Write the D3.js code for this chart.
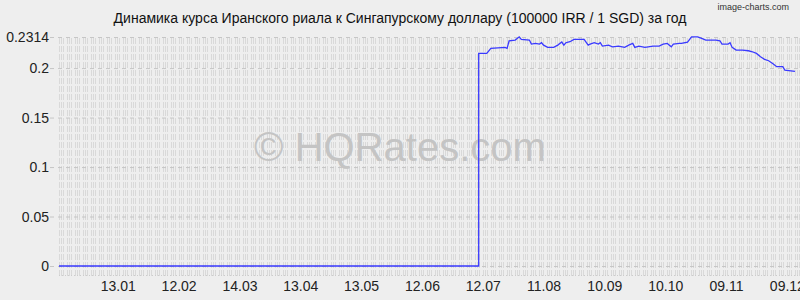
<!DOCTYPE html>
<html>
<head>
<meta charset="utf-8">
<script src="https://cdn.jsdelivr.net/npm/d3@7"></script>
<style>
  body { margin: 0; background: #eeeeee; }
  svg { display: block; }
</style>
</head>
<body>
<div id="chart"></div>
<script>
// Rate data (100000 IRR / 1 SGD)
var dates = [
    '2012-12-15', '2013-07-10', '2013-07-10', '2013-07-14', '2013-07-16', '2013-07-23',
    '2013-07-24', '2013-07-25', '2013-07-28', '2013-07-30', '2013-07-31', '2013-08-04',
    '2013-08-05', '2013-08-07', '2013-08-09', '2013-08-10', '2013-08-11', '2013-08-13',
    '2013-08-16', '2013-08-18', '2013-08-20', '2013-08-21', '2013-08-22', '2013-08-24',
    '2013-08-26', '2013-08-31', '2013-09-02', '2013-09-03', '2013-09-05', '2013-09-07',
    '2013-09-08', '2013-09-09', '2013-09-12', '2013-09-14', '2013-09-17', '2013-09-20',
    '2013-09-22', '2013-09-24', '2013-09-25', '2013-09-27', '2013-09-30', '2013-10-04',
    '2013-10-07', '2013-10-09', '2013-10-11', '2013-10-13', '2013-10-14', '2013-10-17',
    '2013-10-18', '2013-10-21', '2013-10-23', '2013-10-26', '2013-10-28', '2013-10-30',
    '2013-11-04', '2013-11-06', '2013-11-07', '2013-11-10', '2013-11-11', '2013-11-12',
    '2013-11-14', '2013-11-17', '2013-11-20', '2013-11-22', '2013-11-24', '2013-11-26',
    '2013-11-28', '2013-11-30', '2013-12-02', '2013-12-04', '2013-12-07', '2013-12-08',
    '2013-12-10', '2013-12-13'
];
var rates = [
    0, 0, 0.2148, 0.2148, 0.2199, 0.2209,
    0.2199, 0.2276, 0.2283, 0.2316, 0.2290, 0.2283,
    0.2242, 0.2249, 0.2242, 0.2256, 0.2232, 0.2209,
    0.2209, 0.2232, 0.2263, 0.2232, 0.2256, 0.2266,
    0.2290, 0.2290, 0.2232, 0.2242, 0.2256, 0.2242,
    0.2256, 0.2222, 0.2232, 0.2215, 0.2222, 0.2209,
    0.2232, 0.2249, 0.2209, 0.2222, 0.2209, 0.2222,
    0.2222, 0.2242, 0.2249, 0.2215, 0.2242, 0.2249,
    0.2249, 0.2263, 0.2316, 0.2316, 0.2300, 0.2283,
    0.2283, 0.2276, 0.2242, 0.2242, 0.2256, 0.2209,
    0.2182, 0.2182, 0.2175, 0.2165, 0.2148, 0.2114,
    0.2088, 0.2074, 0.2047, 0.2014, 0.2014, 0.1980,
    0.1974, 0.1966
];

// Axis ticks
var yTicks = [0, 0.05, 0.1, 0.15, 0.2, 0.2314];
var yTickLabels = ['0', '0.05', '0.1', '0.15', '0.2', '0.2314'];
var xTicks = [
    '2013-01-13', '2013-02-12', '2013-03-14', '2013-04-13', '2013-05-13', '2013-06-12',
    '2013-07-12', '2013-08-11', '2013-09-10', '2013-10-10', '2013-11-09', '2013-12-09'
];
var dateRange = ['2012-12-15', '2013-12-14'];

var title = 'Динамика курса Иранского риала к Сингапурскому доллару (100000 IRR / 1 SGD) за год';

// Layout
var fullWidth = 800;
var fullHeight = 300;
var plot = { left: 59, right: 800, top: 37, bottom: 276 };

var parseDate = d3.timeParse('%Y-%m-%d');
var data = dates.map(function (d, i) {
    return { date: parseDate(d), rate: rates[i] };
});

var svg = d3.select('#chart').append('svg')
    .attr('width', fullWidth)
    .attr('height', fullHeight)
    .style('font-family', '"Liberation Sans", Arial, sans-serif');

svg.append('rect')
    .attr('width', fullWidth)
    .attr('height', fullHeight)
    .attr('fill', '#eeeeee');

// Scales
var xScale = d3.scaleTime()
    .domain(dateRange.map(parseDate))
    .range([plot.left, 797]);

var yScale = d3.scaleLinear()
    .domain([0, 0.2314])
    .range([266, plot.top]);

// Dense dashed grid texture of the plot area
var defs = svg.append('defs');
var pat = defs.append('pattern')
    .attr('id', 'grid')
    .attr('patternUnits', 'userSpaceOnUse')
    .attr('x', plot.left)
    .attr('y', plot.top + 1)
    .attr('width', 8)
    .attr('height', 8);
[0, 2, 4].forEach(function (px) {
    pat.append('rect')
        .attr('x', px)
        .attr('y', 0)
        .attr('width', 1)
        .attr('height', 6)
        .attr('fill', '#d9d9d9');
});

svg.append('rect')
    .attr('x', plot.left)
    .attr('y', plot.top)
    .attr('width', plot.right - plot.left)
    .attr('height', plot.bottom - plot.top)
    .attr('fill', 'url(#grid)');

// bottom dotted border
svg.append('line')
    .attr('x1', plot.left)
    .attr('x2', plot.right)
    .attr('y1', plot.bottom - 0.5)
    .attr('y2', plot.bottom - 0.5)
    .attr('stroke', '#cccccc')
    .attr('stroke-dasharray', '1,2');

// Watermark
svg.append('text')
    .attr('x', 400)
    .attr('y', 161)
    .attr('text-anchor', 'middle')
    .style('font-size', '40px')
    .style('fill', '#c4c4c4')
    .text('© HQRates.com');

// Horizontal dashed lines at y ticks
var yAxis = d3.axisLeft(yScale)
    .tickValues(yTicks)
    .tickSize(-(plot.right - 50))
    .tickPadding(1)
    .tickFormat(function (d, i) { return yTickLabels[i]; });

var yAxisEle = svg.append('g')
    .classed('y axis', true)
    .attr('transform', 'translate(50,0)')
    .call(yAxis);

yAxisEle.select('.domain').remove();
yAxisEle.selectAll('.tick line')
    .attr('stroke', '#c6c6c6')
    .attr('stroke-dasharray', '4,4');
yAxisEle.selectAll('.tick text')
    .attr('x', -1)
    .attr('dy', '0.35em')
    .style('font-size', '14px')
    .style('font-family', '"Liberation Sans", Arial, sans-serif')
    .style('fill', '#222');

// X axis labels
var fmt = d3.timeFormat('%d.%m');
var xAxis = d3.axisBottom(xScale)
    .tickValues(xTicks.map(parseDate))
    .tickSize(0)
    .tickPadding(0)
    .tickFormat(fmt);

var xAxisEle = svg.append('g')
    .classed('x axis', true)
    .attr('transform', 'translate(0,' + 278 + ')')
    .call(xAxis);

xAxisEle.select('.domain').remove();
xAxisEle.selectAll('.tick text')
    .attr('y', 0)
    .attr('dy', '0.95em')
    .style('font-size', '14px')
    .style('font-family', '"Liberation Sans", Arial, sans-serif')
    .style('fill', '#222');

// Rate line
var line = d3.line()
    .x(function (d) { return xScale(d.date); })
    .y(function (d) { return yScale(d.rate); });

svg.append('path')
    .datum(data)
    .attr('d', line)
    .attr('fill', 'none')
    .attr('stroke', '#3a3aff')
    .attr('stroke-width', 1.3);

// Title and credit
svg.append('text')
    .attr('x', 400)
    .attr('y', 23)
    .attr('text-anchor', 'middle')
    .style('font-size', '14px')
    .style('fill', '#111')
    .text(title);

svg.append('text')
    .attr('x', 789)
    .attr('y', 10)
    .attr('text-anchor', 'end')
    .style('font-size', '9px')
    .style('fill', '#333')
    .text('image-charts.com');
</script>
</body>
</html>
